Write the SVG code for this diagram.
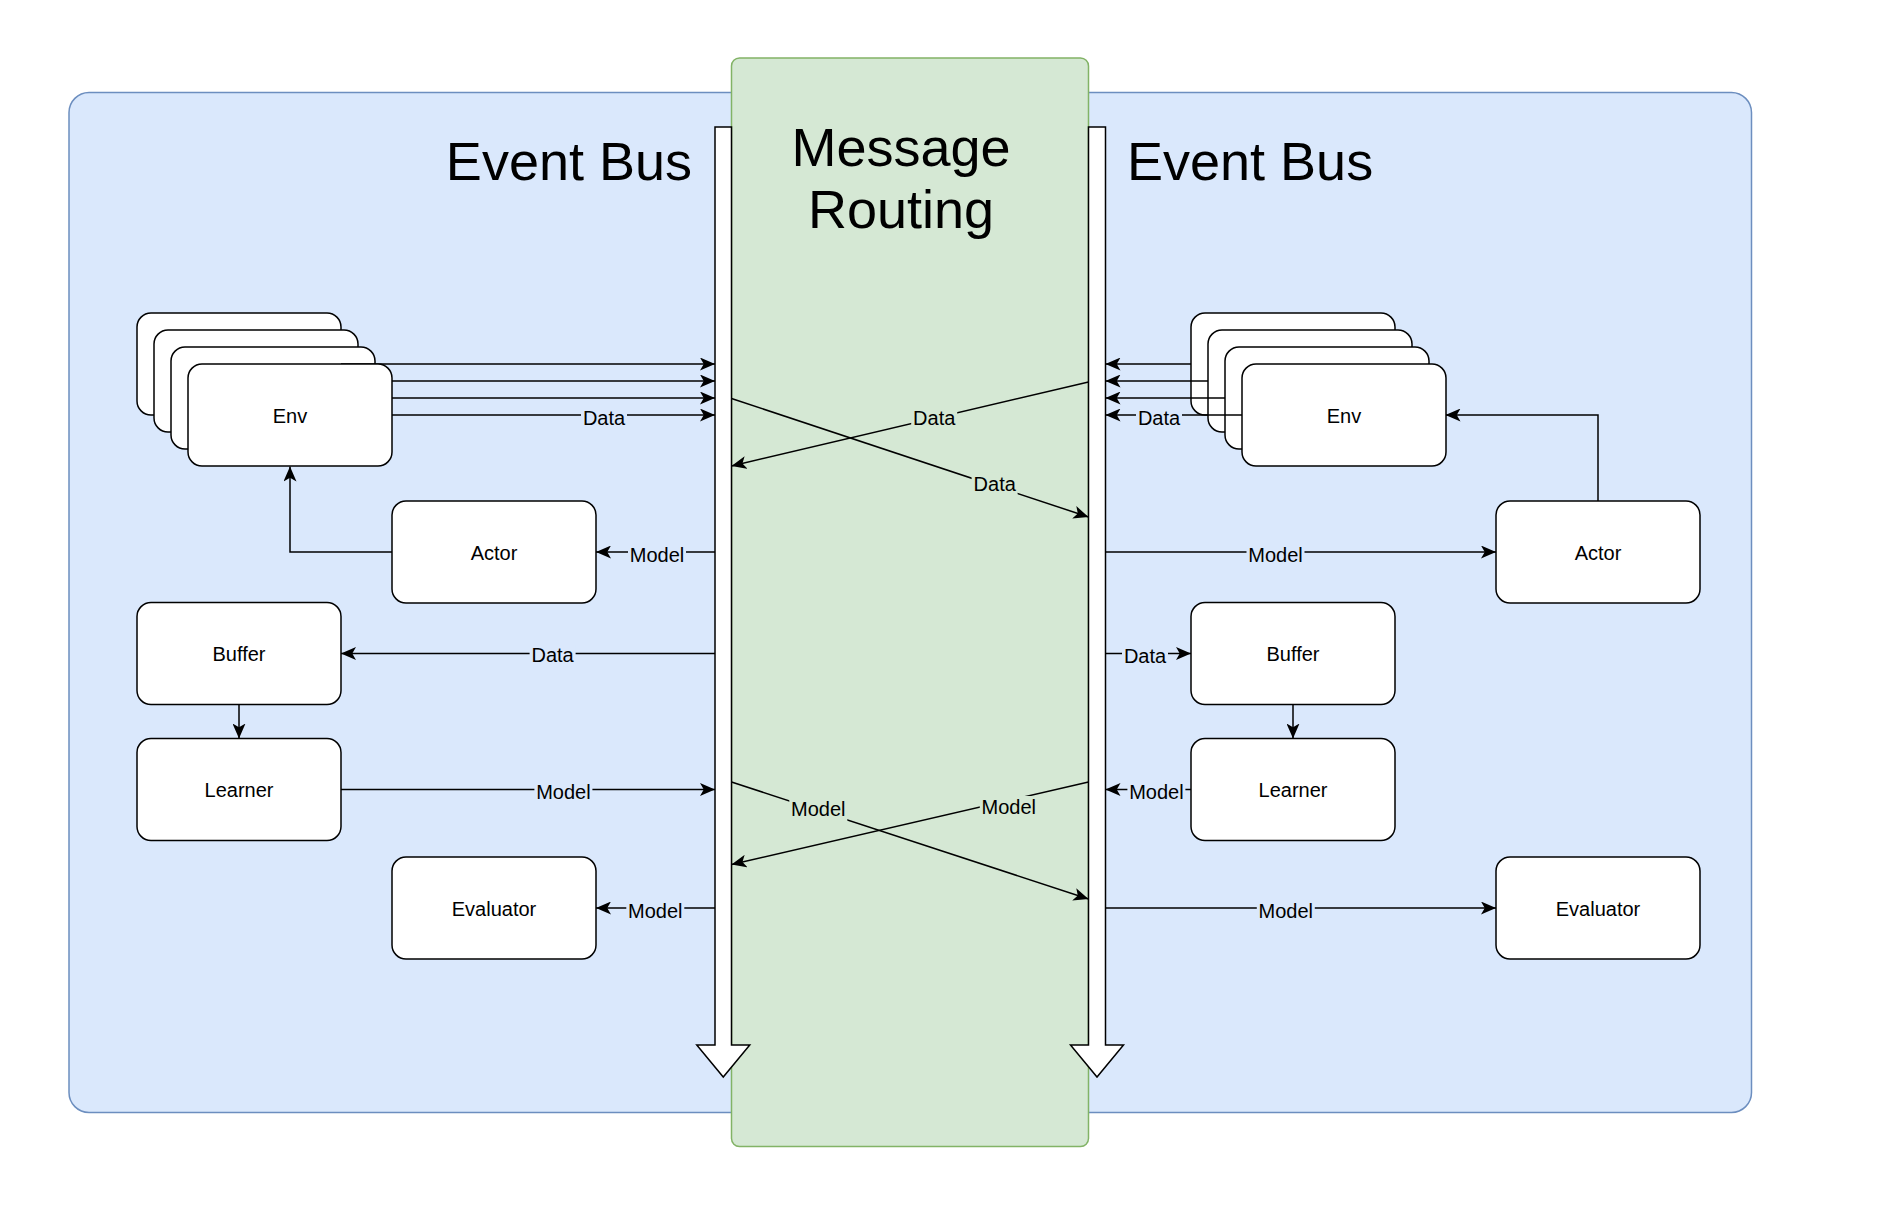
<svg xmlns="http://www.w3.org/2000/svg" width="1884" height="1214" viewBox="0 0 1884 1214">
  <style>
    text { font-family: "Liberation Sans", Arial, Helvetica, sans-serif; fill: #000000; }
    .title { font-size: 54px; }
    .node rect { fill: #ffffff; stroke: #000000; stroke-width: 1.5; }
    .node text { font-size: 20px; text-anchor: middle; }
    .edge { fill: none; stroke: #000000; stroke-width: 1.5; marker-end: url(#arr); }
    .lbl { font-size: 20px; text-anchor: middle; }
    .bgb { fill: #dae8fc; }
    .bgg { fill: #d5e8d4; }
    .bus { fill: #ffffff; stroke: #000000; stroke-width: 1.5; stroke-linejoin: miter; }
  </style>
  <defs>
    <marker id="arr" viewBox="0 0 15 13" refX="15" refY="6.5" markerWidth="15" markerHeight="13" orient="auto" markerUnits="userSpaceOnUse">
      <path d="M0,0 L15,6.5 L0,13 L3.75,6.5 Z" fill="#000000"/>
    </marker>
  </defs>

  <rect width="1884" height="1214" fill="#ffffff"/>

  <!-- containers -->
  <g id="event-bus-container">
    <rect x="69" y="92.5" width="1682.5" height="1020" rx="20" ry="20" fill="#dae8fc" stroke="#6c8ebf" stroke-width="1.5"/>
    <text class="title" x="692" y="180" text-anchor="end">Event Bus</text>
    <text class="title" x="1127" y="180">Event Bus</text>
  </g>
  <g id="message-routing">
    <rect x="731.5" y="58" width="357" height="1088.5" rx="8" ry="8" fill="#d5e8d4" stroke="#82b366" stroke-width="1.5"/>
    <text class="title" x="901" y="166" text-anchor="middle">Message</text>
    <text class="title" x="901" y="228" text-anchor="middle">Routing</text>
  </g>

  <!-- bus arrows -->
  <g id="bus-left">
    <polygon class="bus" points="715,127 731.5,127 731.5,1045 749.75,1045 723.25,1077 696.75,1045 715,1045"/>
  </g>
  <g id="bus-right">
    <polygon class="bus" points="1088.5,127 1105.5,127 1105.5,1045 1123.5,1045 1097,1077 1070.5,1045 1088.5,1045"/>
  </g>

  <!-- stacked env back copies -->
  <g id="env-left-stack" class="node">
    <rect x="137" y="313" width="204" height="102" rx="14" ry="14"/>
    <rect x="154" y="330" width="204" height="102" rx="14" ry="14"/>
    <rect x="171" y="347" width="204" height="102" rx="14" ry="14"/>
  </g>
  <g id="env-right-stack" class="node">
    <rect x="1191" y="313" width="204" height="102" rx="14" ry="14"/>
    <rect x="1208" y="330" width="204" height="102" rx="14" ry="14"/>
    <rect x="1225" y="347" width="204" height="102" rx="14" ry="14"/>
  </g>

  <!-- connectors -->
  <g id="connectors">
    <!-- left env to bus -->
    <path class="edge" d="M341,364 H715"/>
    <path class="edge" d="M358,381 H715"/>
    <path class="edge" d="M375,398 H715"/>
    <path class="edge" d="M392,415 H715"/>
    <!-- right env to bus -->
    <path class="edge" d="M1191,364 H1105.5"/>
    <path class="edge" d="M1208,381 H1105.5"/>
    <path class="edge" d="M1225,398 H1105.5"/>
    <path class="edge" d="M1242,415 H1105.5"/>
    <!-- actor to env -->
    <path class="edge" d="M392,552 H290 V466.5"/>
    <path class="edge" d="M1598,501 V415 H1445.5"/>
    <!-- bus to actor -->
    <path class="edge" d="M715,552 H596"/>
    <path class="edge" d="M1105.5,552 H1496"/>
    <!-- bus to buffer -->
    <path class="edge" d="M715,653.5 H341"/>
    <path class="edge" d="M1105.5,653.5 H1191"/>
    <!-- buffer to learner -->
    <path class="edge" d="M239,704.5 V738.5"/>
    <path class="edge" d="M1293,704.5 V738.5"/>
    <!-- learner to bus -->
    <path class="edge" d="M341,789.5 H715"/>
    <path class="edge" d="M1191,789.5 H1105.5"/>
    <!-- bus to evaluator -->
    <path class="edge" d="M715,908 H596"/>
    <path class="edge" d="M1105.5,908 H1496"/>
    <!-- routing crosses -->
    <path class="edge" d="M731.5,398.5 L1088.5,517"/>
    <path class="edge" d="M1088.5,382 L731.5,466"/>
    <path class="edge" d="M731.5,782 L1088.5,899"/>
    <path class="edge" d="M1088.5,782 L731.5,864.5"/>

    <!-- labels -->
    <rect class="bgb" x="581" y="406" width="46" height="22"/>
    <text class="lbl" x="604" y="424.5">Data</text>
    <rect class="bgb" x="628" y="543" width="58" height="22"/>
    <text class="lbl" x="657" y="561.5">Model</text>
    <rect class="bgb" x="529.6" y="644.5" width="46" height="22"/>
    <text class="lbl" x="552.6" y="662">Data</text>
    <rect class="bgb" x="534.4" y="780.5" width="58" height="22"/>
    <text class="lbl" x="563.4" y="799">Model</text>
    <rect class="bgb" x="626.3" y="899" width="58" height="22"/>
    <text class="lbl" x="655.3" y="917.5">Model</text>

    <rect class="bgb" x="1136" y="406" width="46" height="22"/>
    <text class="lbl" x="1159" y="424.5">Data</text>
    <rect class="bgb" x="1246.5" y="543" width="58" height="22"/>
    <text class="lbl" x="1275.5" y="561.5">Model</text>
    <rect class="bgb" x="1122" y="644.5" width="46" height="22"/>
    <text class="lbl" x="1145" y="663">Data</text>
    <rect class="bgb" x="1127.4" y="780.5" width="58" height="22"/>
    <text class="lbl" x="1156.4" y="799">Model</text>
    <rect class="bgb" x="1256.8" y="899" width="58" height="22"/>
    <text class="lbl" x="1285.8" y="917.5">Model</text>

    <rect class="bgg" x="971.6" y="472.7" width="46" height="23"/>
    <text class="lbl" x="994.7" y="490.7">Data</text>
    <rect class="bgg" x="911.2" y="407" width="46" height="23"/>
    <text class="lbl" x="934.2" y="425">Data</text>
    <rect class="bgg" x="789.3" y="798" width="58" height="23"/>
    <text class="lbl" x="818.3" y="816">Model</text>
    <rect class="bgg" x="979.8" y="796" width="58" height="23"/>
    <text class="lbl" x="1008.8" y="814">Model</text>
  </g>

  <!-- left nodes -->
  <g id="env-left" class="node">
    <rect x="188" y="364" width="204" height="102" rx="14" ry="14"/>
    <text x="290" y="422.5">Env</text>
  </g>
  <g id="actor-left" class="node">
    <rect x="392" y="501" width="204" height="102" rx="14" ry="14"/>
    <text x="494" y="559.5">Actor</text>
  </g>
  <g id="buffer-left" class="node">
    <rect x="137" y="602.5" width="204" height="102" rx="14" ry="14"/>
    <text x="239" y="661">Buffer</text>
  </g>
  <g id="learner-left" class="node">
    <rect x="137" y="738.5" width="204" height="102" rx="14" ry="14"/>
    <text x="239" y="797">Learner</text>
  </g>
  <g id="evaluator-left" class="node">
    <rect x="392" y="857" width="204" height="102" rx="14" ry="14"/>
    <text x="494" y="915.5">Evaluator</text>
  </g>

  <!-- right nodes -->
  <g id="env-right" class="node">
    <rect x="1242" y="364" width="204" height="102" rx="14" ry="14"/>
    <text x="1344" y="422.5">Env</text>
  </g>
  <g id="actor-right" class="node">
    <rect x="1496" y="501" width="204" height="102" rx="14" ry="14"/>
    <text x="1598" y="559.5">Actor</text>
  </g>
  <g id="buffer-right" class="node">
    <rect x="1191" y="602.5" width="204" height="102" rx="14" ry="14"/>
    <text x="1293" y="661">Buffer</text>
  </g>
  <g id="learner-right" class="node">
    <rect x="1191" y="738.5" width="204" height="102" rx="14" ry="14"/>
    <text x="1293" y="797">Learner</text>
  </g>
  <g id="evaluator-right" class="node">
    <rect x="1496" y="857" width="204" height="102" rx="14" ry="14"/>
    <text x="1598" y="915.5">Evaluator</text>
  </g>
</svg>
